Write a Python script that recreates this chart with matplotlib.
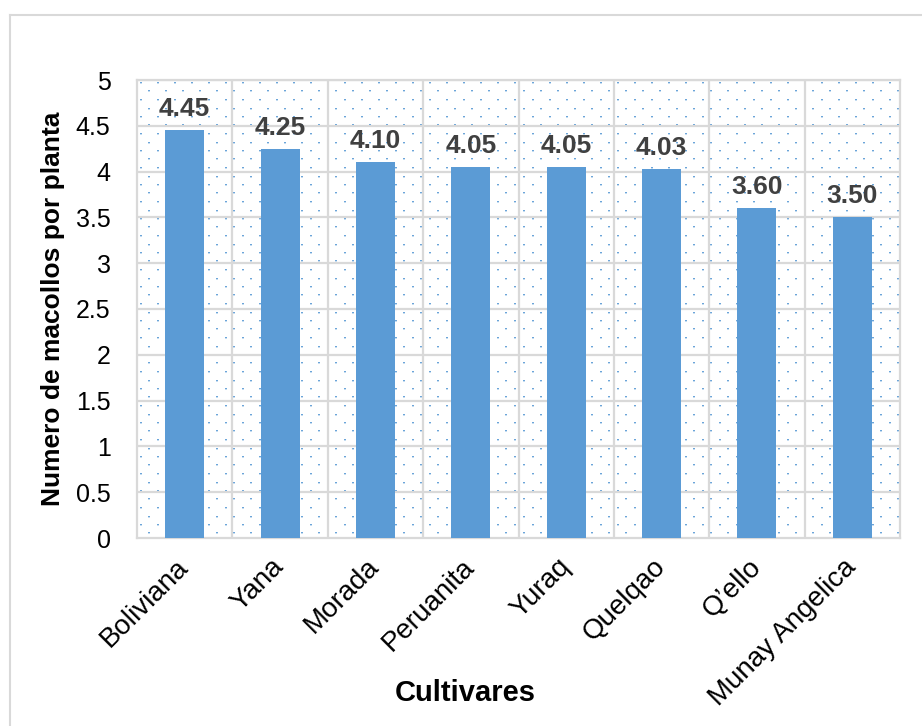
import matplotlib
matplotlib.use("Agg")
import matplotlib.pyplot as plt
from matplotlib.lines import Line2D
import numpy as np

plt.rcParams['font.family'] = ['Liberation Sans', 'DejaVu Sans']

cultivares = ["Boliviana", "Yana", "Morada", "Peruanita", "Yuraq", "Quelqao", "Q\u2019ello", "Munay Angelica"]
macollos = [4.45, 4.25, 4.10, 4.05, 4.05, 4.03, 3.60, 3.50]
labels = ["4.45", "4.25", "4.10", "4.05", "4.05", "4.03", "3.60", "3.50"]

W_FIG, H_FIG = 922, 726
fig = plt.figure(figsize=(W_FIG/100, H_FIG/100), dpi=100)

# chart-area border (left and top edges visible)
fig.add_artist(Line2D([10/W_FIG, 10/W_FIG], [0, 1-15/H_FIG], transform=fig.transFigure,
                      color='#d9d9d9', linewidth=1.5))
fig.add_artist(Line2D([10/W_FIG, 1], [1-15/H_FIG, 1-15/H_FIG], transform=fig.transFigure,
                      color='#d9d9d9', linewidth=1.5))

AX_L, AX_T, AX_R, AX_B = 137, 80, 900, 538
ax = fig.add_axes([AX_L/W_FIG, 1-AX_B/H_FIG, (AX_R-AX_L)/W_FIG, (AX_B-AX_T)/H_FIG])

# dotted (5%-pattern) background texture
Hp, Wp = AX_B-AX_T, AX_R-AX_L
tex = np.zeros((Hp, Wp, 4))
blue = np.array([0x5b, 0x9b, 0xd5]) / 255.0
for k, yy in enumerate(np.arange(2.0, Hp-1, 8.5)):
    xs = np.arange(3.0 + (k % 2) * 8.5, Wp-1, 17.0).astype(int)
    yi = int(round(yy))
    for dx in (0, 1):
        tex[yi, xs + dx, :3] = blue
        tex[yi, xs + dx, 3] = 0.9
        tex[yi+1, xs + dx, :3] = blue
        tex[yi+1, xs + dx, 3] = 0.35
ax.imshow(tex, extent=(0, 1, 0, 1), transform=ax.transAxes, aspect='auto',
          interpolation='nearest', zorder=0)

x = np.arange(len(cultivares))
bars = ax.bar(x, macollos, width=0.41, color='#5b9bd5', zorder=3)
for xi, v, lab in zip(x, macollos, labels):
    ax.text(xi, v + 0.1, lab, ha='center', va='bottom', fontsize=19,
            fontweight='bold', color='#404040', zorder=4)

ax.set_xlim(-0.5, len(cultivares)-0.5)
ax.set_ylim(0, 5)
ax.set_yticks(np.arange(0, 5.01, 0.5))
ax.set_yticklabels(["0", "0.5", "1", "1.5", "2", "2.5", "3", "3.5", "4", "4.5", "5"])
ax.set_xticks(x)
ax.set_xticklabels(cultivares, rotation=45, ha='right', va='center', rotation_mode='anchor')
ax.tick_params(axis='both', length=0, colors='black')
ax.tick_params(axis='y', labelsize=18, pad=19)
ax.tick_params(axis='x', labelsize=20, pad=18)

# grid
for yv in np.arange(0.5, 5.01, 0.5):
    ax.axhline(yv, color='#d9d9d9', linewidth=1.6, zorder=1)
for xv in np.arange(0.5, len(cultivares)-0.5, 1):
    ax.axvline(xv, color='#d9d9d9', linewidth=1.6, zorder=1)
for side in ['left', 'top', 'right', 'bottom']:
    ax.spines[side].set_color('#d9d9d9')
    ax.spines[side].set_linewidth(1.6)

ax.set_ylabel("Numero de macollos por planta", fontsize=19, fontweight='bold', labelpad=8)
ax.set_xlabel("Cultivares", fontsize=21, fontweight='bold', va='center')
ax.xaxis.set_label_coords((465-AX_L)/(AX_R-AX_L), -(693-AX_B)/(AX_B-AX_T))

fig.savefig("out.png", dpi=100)
